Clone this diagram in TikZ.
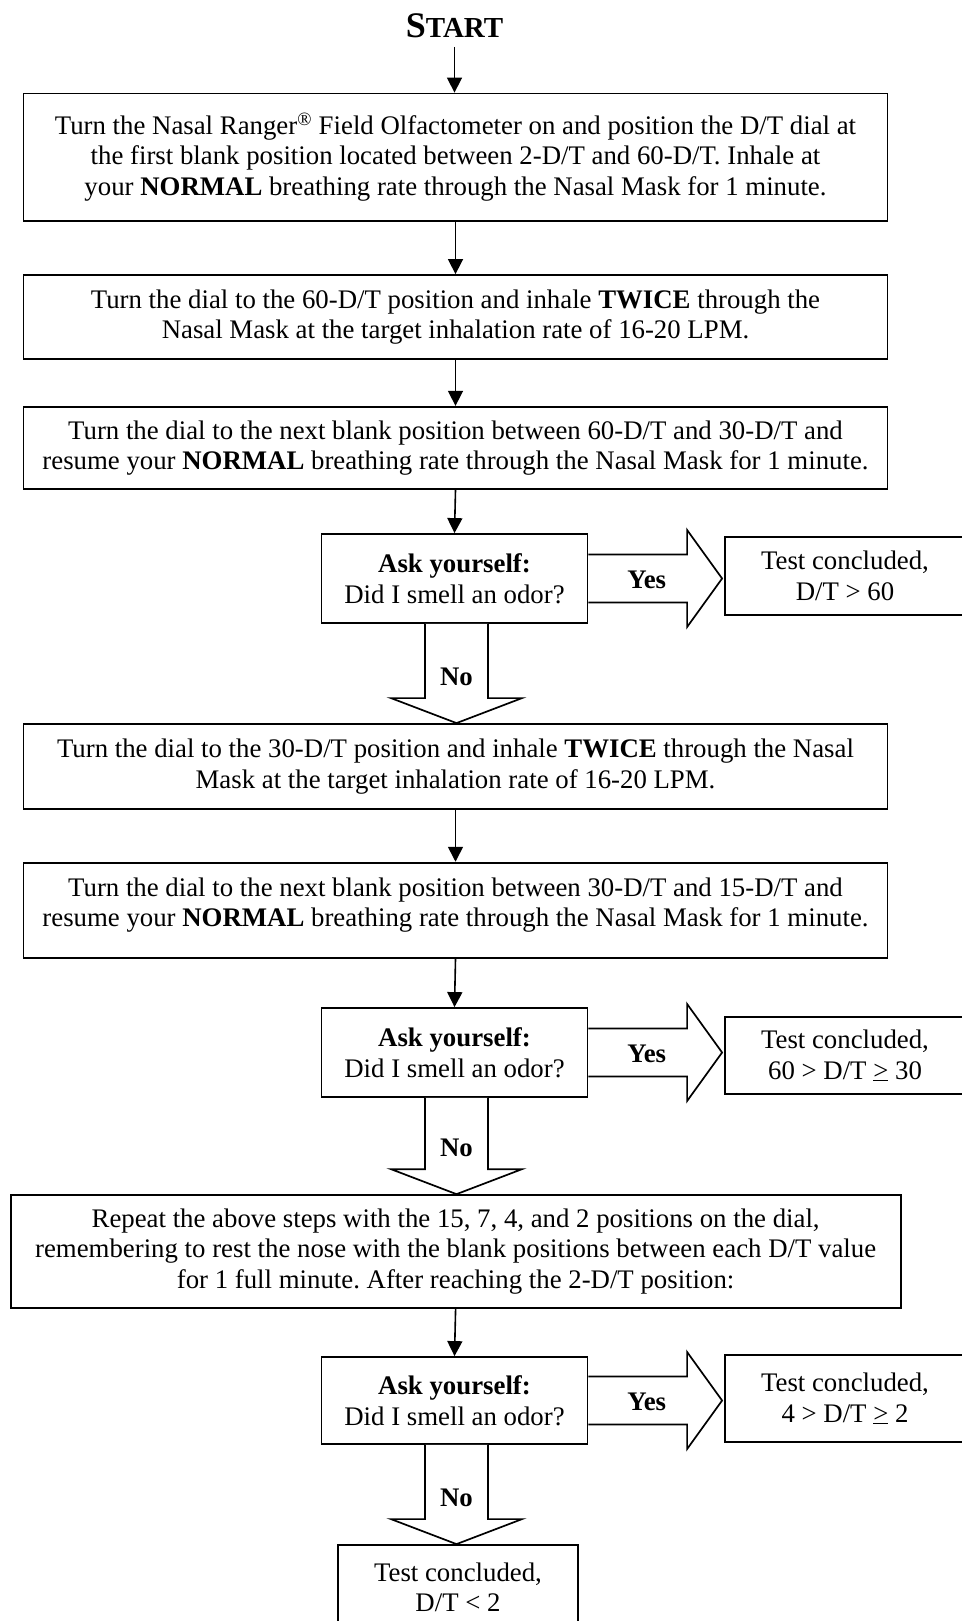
\documentclass[tikz,border=0pt]{standalone}
\usepackage{fontspec}
\setmainfont{Liberation Serif}
\usetikzlibrary{arrows.meta,calc}
\frenchspacing
\tikzset{
  box/.style={draw, line width=1.8pt, rectangle, inner sep=3pt, align=center,
    font=\fontsize{26.8}{30.5}\selectfont},
  conn/.style={line width=1.6pt, -{Triangle[length=15pt,width=15pt]}},
  blk/.style={draw, line width=1.7pt, line join=miter, fill=white},
  lbl/.style={font=\fontsize{26.8}{30.5}\selectfont\bfseries, inner sep=0pt},
}
% yes block arrow: #1 ask node, #2 result node, #3 prefix
\newcommand\yesblk[3]{%
  \coordinate (#3tip) at ($(#2.west |- #1.center)+(-2,0)$);
  \coordinate (#3end) at ($(#3tip)+(-35,0)$);
  \draw[blk] ($(#1.east)+(0,-24)$) -- ($(#3end)+(0,-24)$) -- ($(#3end)+(0,-48.5)$)
    -- (#3tip) -- ($(#3end)+(0,48.5)$) -- ($(#3end)+(0,24)$) -- ($(#1.east)+(0,24)$);
  \node[lbl] (#3) at ($($(#1.east)!0.5!(#3end)$)+(9,1)$) {Yes};%
}
% no block arrow: #1 ask node, #2 next node, #3 prefix
\newcommand\noblk[3]{%
  \coordinate (#3tip) at ($(#1.south |- #2.north)+(2,0)$);
  \coordinate (#3end) at ($(#3tip)+(0,-25)$);
  \draw[blk] ($(#1.south)+(-29.5,0)$) -- ($(#3end)+(-31.5,0)$) -- ($(#3end)+(-65.5,0)$)
    -- (#3tip) -- ($(#3end)+(65.5,0)$) -- ($(#3end)+(31.5,0)$) -- ($(#1.south)+(33.5,0)$);
  \node[lbl] (#3) at ($(#3end)+(0,-21)$) {No};%
}
\begin{document}
\begin{tikzpicture}[x=1pt,y=-1pt]
\useasboundingbox (0,0) rectangle (961,1621);
\fill[white] (0,0) rectangle (961,1621);

\node[inner sep=2pt, font=\bfseries] (start) at (454.5,25.5)
  {{\fontsize{36}{36}\selectfont S}{\fontsize{29}{29}\selectfont TART}};

\node[box, minimum width=864, minimum height=127.2] (b1) at (455.5,157.1)
  {Turn the Nasal Ranger\textsuperscript{®} Field Olfactometer on and position the D/T dial at\\
   the first blank position located between 2-D/T and 60-D/T. Inhale at\\
   your \textbf{NORMAL} breathing rate through the Nasal Mask for 1 minute.};

\node[box, minimum width=864, minimum height=84] (b2) at (455.5,317)
  {Turn the dial to the 60-D/T position and inhale \textbf{TWICE} through the\\
   Nasal Mask at the target inhalation rate of 16-20 LPM.};

\node[box, minimum width=864, minimum height=82.3] (b3) at (455.5,447.9)
  {Turn the dial to the next blank position between 60-D/T and 30-D/T and\\
   resume your \textbf{NORMAL} breathing rate through the Nasal Mask for 1 minute.};

\node[box, minimum width=266, minimum height=89] (ask1) at (454.5,578.5)
  {\textbf{Ask yourself:}\\ Did I smell an odor?};
\node[box, minimum width=240, minimum height=78] (res1) at (845,576)
  {Test concluded,\\ D/T > 60};

\node[box, minimum width=864, minimum height=85] (b4) at (455.5,766.5)
  {Turn the dial to the 30-D/T position and inhale \textbf{TWICE} through the Nasal\\
   Mask at the target inhalation rate of 16-20 LPM.};

\node[box, minimum width=864, minimum height=95.3, text depth=16pt] (b5) at (455.5,910.3)
  {Turn the dial to the next blank position between 30-D/T and 15-D/T and\\
   resume your \textbf{NORMAL} breathing rate through the Nasal Mask for 1 minute.};

\node[box, minimum width=266, minimum height=89] (ask2) at (454.5,1052.5)
  {\textbf{Ask yourself:}\\ Did I smell an odor?};
\node[box, minimum width=240, minimum height=77] (res2) at (845,1055.5)
  {Test concluded,\\ 60 > D/T \underline{>} 30};

\node[box, minimum width=890, minimum height=112.7] (b6) at (455.6,1251.4)
  {Repeat the above steps with the 15, 7, 4, and 2 positions on the dial,\\
   remembering to rest the nose with the blank positions between each D/T value\\
   for 1 full minute. After reaching the 2-D/T position:};

\node[box, minimum width=266, minimum height=87] (ask3) at (454.5,1400.5)
  {\textbf{Ask yourself:}\\ Did I smell an odor?};
\node[box, minimum width=240, minimum height=87] (res3) at (845,1398.5)
  {Test concluded,\\ 4 > D/T \underline{>} 2};

\node[box, minimum width=240, minimum height=85] (fin) at (458,1587.5)
  {Test concluded,\\ D/T < 2};

\draw[conn, shorten <=7pt] (start.south) -- (start.south |- b1.north);
\draw[conn] (b1.south) -- (b2.north);
\draw[conn] (b2.south) -- (b3.north);
\draw[conn] (b3.south) -- (ask1.north);
\draw[conn] (b4.south) -- (b5.north);
\draw[conn] (b5.south) -- (ask2.north);
\draw[conn] (b6.south) -- (ask3.north);

\yesblk{ask1}{res1}{yesA}
\noblk{ask1}{b4}{noA}
\yesblk{ask2}{res2}{yesB}
\noblk{ask2}{b6}{noB}
\yesblk{ask3}{res3}{yesC}
\noblk{ask3}{fin}{noC}
\end{tikzpicture}
\end{document}
